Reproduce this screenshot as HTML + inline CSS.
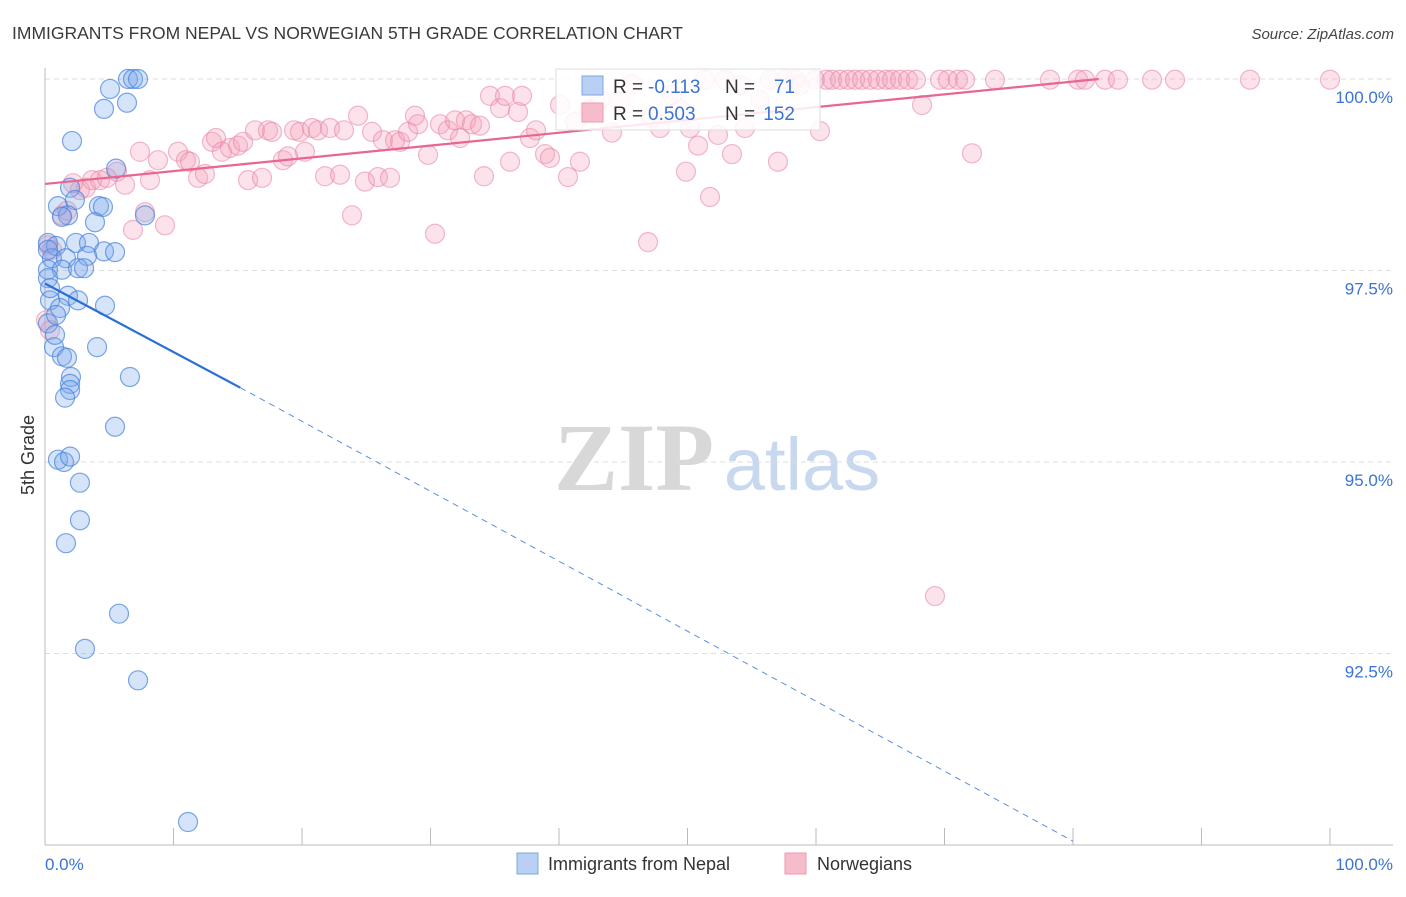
<!DOCTYPE html>
<html><head><meta charset="utf-8">
<style>
body{margin:0;background:#fff;width:1406px;height:892px;overflow:hidden;font-family:"Liberation Sans",sans-serif;}
svg text{font-family:"Liberation Sans",sans-serif;}
</style></head>
<body>
<svg id="chart" width="1406" height="892" xmlns="http://www.w3.org/2000/svg">
<text x="12" y="39" font-size="17.5" fill="#3a3a3a">IMMIGRANTS FROM NEPAL VS NORWEGIAN 5TH GRADE CORRELATION CHART</text>
<text x="1394" y="39" font-size="15" fill="#444" text-anchor="end" font-style="italic">Source: ZipAtlas.com</text>
<g>
<text x="634" y="490" font-size="96" fill="#d8d8d8" text-anchor="middle" font-weight="bold" style="font-family:'Liberation Serif',serif">ZIP</text>
<text x="802" y="490" font-size="74" fill="#c8d8ee" text-anchor="middle">atlas</text>
</g>
<g id="grid"></g>
<g id="axes"></g>
<g id="points"></g>
<g id="trends"></g>
<text transform="translate(34,455) rotate(-90)" font-size="18" fill="#333" text-anchor="middle">5th Grade</text>
<g>
<rect x="556" y="69" width="264" height="61" fill="#fff" fill-opacity="0.85" stroke="#ddd"/>
<rect x="582" y="76" width="21" height="19" fill="#b9d0f3" stroke="#7ea6e3"/>
<rect x="582" y="103" width="21" height="19" fill="#f7bccb" stroke="#ee9ab2"/>
<text x="613" y="93" font-size="19" fill="#333">R = </text><text x="648" y="93" font-size="19" fill="#3a74d4">-0.113</text>
<text x="725" y="93" font-size="19" fill="#333">N = </text><text x="795" y="93" font-size="19" fill="#3a74d4" text-anchor="end">71</text>
<text x="613" y="120" font-size="19" fill="#333">R = </text><text x="648" y="120" font-size="19" fill="#3a74d4">0.503</text>
<text x="725" y="120" font-size="19" fill="#333">N = </text><text x="795" y="120" font-size="19" fill="#3a74d4" text-anchor="end">152</text>
</g>
<g>
<rect x="517" y="853" width="21" height="21" fill="#b9d0f3" stroke="#7ea6e3"/>
<text x="548" y="870" font-size="18" fill="#333">Immigrants from Nepal</text>
</g>
<g>
<rect x="785" y="853" width="21" height="21" fill="#f7bccb" stroke="#ee9ab2"/>
<text x="817" y="870" font-size="18" fill="#333">Norwegians</text>
</g>
</svg>
<script>
const blueX=[6.46,6.85,7.24,5.06,6.38,4.59,2.10,5.53,1.95,1.01,4.20,4.51,2.33,1.79,1.32,3.89,7.78,0.23,0.86,2.41,3.42,4.59,5.45,0.54,1.63,3.27,0.23,1.32,2.57,3.04,0.23,1.79,2.57,4.67,0.39,1.17,0.23,0.86,0.70,1.32,1.71,4.05,2.02,1.95,1.95,6.61,5.45,1.01,1.48,1.95,2.72,2.72,1.63,5.76,3.11,7.24,11.13,0.23,0.39,0.78,1.56];
const blueY=[100,100,100,99.87,99.69,99.61,99.19,98.83,98.58,98.34,98.34,98.33,98.42,98.22,98.20,98.13,98.22,97.86,97.82,97.86,97.86,97.75,97.74,97.66,97.66,97.69,97.51,97.51,97.53,97.53,97.40,97.17,97.11,97.04,97.11,97.01,96.81,96.92,96.50,96.38,96.36,96.50,96.11,96.02,95.94,96.11,95.46,95.03,95.00,95.07,94.73,94.24,93.94,93.02,92.56,92.15,90.30,97.77,97.27,96.66,95.84];
const pinkX=[0.23,0.54,1.32,1.71,2.72,3.19,2.18,3.66,4.28,4.82,5.60,6.23,7.39,8.17,8.79,9.34,7.78,6.85,10.35,10.97,11.28,11.91,12.45,13.00,13.31,13.77,14.40,15.02,15.41,15.80,16.34,16.89,17.35,17.67,18.52,18.91,19.38,19.84,20.23,20.78,21.25,21.79,22.18,22.96,23.27,23.89,24.36,24.90,25.45,25.91,26.30,26.85,27.24,27.63,28.25,28.79,29.03,29.81,30.35,30.74,31.36,31.91,32.30,32.76,33.23,33.85,34.16,34.63,35.41,35.80,36.19,36.81,37.12,37.74,38.21,38.91,39.30,40.08,40.70,41.25,41.63,42.41,43.19,44.12,44.75,45.68,46.93,47.24,47.86,48.79,49.42,49.88,50.19,50.82,51.36,51.75,52.37,52.92,53.46,54.09,54.47,55.64,56.42,57.04,57.59,58.37,58.75,59.92,60.31,60.78,61.25,61.87,62.49,63.04,63.58,64.20,64.82,65.45,65.91,66.54,67.16,67.78,68.25,69.26,69.65,70.27,71.05,71.60,72.14,73.93,78.21,80.39,80.93,82.49,83.50,86.15,87.94,93.77,100.0,0.08,0.39];
const pinkY=[97.83,97.77,98.22,98.28,98.55,98.58,98.64,98.68,98.68,98.71,98.79,98.62,99.05,98.68,98.94,98.09,98.26,98.03,99.05,98.94,98.92,98.71,98.76,99.18,99.23,99.05,99.10,99.13,99.18,98.68,99.33,98.71,99.33,99.31,98.94,98.99,99.33,99.31,99.05,99.36,99.33,98.73,99.36,98.75,99.33,98.22,99.52,98.66,99.31,98.72,99.20,98.71,99.20,99.18,99.31,99.52,99.41,99.01,97.98,99.41,99.33,99.46,99.23,99.46,99.41,99.39,98.73,99.78,99.62,99.78,98.92,99.57,99.78,99.23,99.33,99.02,98.97,99.66,98.72,99.44,98.92,99.60,99.73,99.30,99.70,99.93,97.87,99.49,99.36,99.79,99.60,98.79,99.36,99.13,99.99,98.46,99.27,99.99,99.02,99.92,99.36,99.73,99.99,98.92,99.99,99.99,99.92,99.99,99.32,99.99,99.99,99.99,99.99,99.99,99.99,99.99,99.99,99.99,99.99,99.99,99.99,99.99,99.66,93.25,99.99,99.99,99.99,99.99,99.03,99.99,99.99,99.99,99.99,99.99,99.99,99.99,99.99,99.99,99.99,96.85,96.72];
const yTicks=[100,97.5,95,92.5];
const yTickLabels=["100.0%","97.5%","95.0%","92.5%"];
const xTicks=[0,10,20,30,40,50,60,70,80,90,100];
const blueTrend=[[0,97.33],[15.2,95.97],[80,90.05]];
const pinkTrend=[[0,98.63],[82,100]];
const X0=45,X1=1330,Y0=845,Y1=79,YMIN=90,YMAX=100;
const sx=v=>X0+(v/100)*(X1-X0);
const sy=v=>Y0-(v-YMIN)/(YMAX-YMIN)*(Y0-Y1);
const NS="http://www.w3.org/2000/svg";
function mk(t,a,p){const e=document.createElementNS(NS,t);for(const k in a)e.setAttribute(k,a[k]);p.appendChild(e);return e;}
const grid=document.getElementById('grid'),axes=document.getElementById('axes'),pts=document.getElementById('points'),tr=document.getElementById('trends');
yTicks.forEach((v,i)=>{
 const l=mk('line',{x1:X0,x2:1393,y1:sy(v),y2:sy(v),stroke:'#ddd','stroke-dasharray':'5,4'},grid);
 
 
 const t=mk('text',{x:1393,y:sy(v)+24,'font-size':17,fill:'#3a74d4','text-anchor':'end'},axes);
 t.textContent=yTickLabels[i];
 
 
});
const ax=mk('line',{x1:X0,x2:X0,y1:68,y2:Y0,stroke:'#bbb'},axes);


const bx=mk('line',{x1:X0,x2:1393,y1:Y0,y2:Y0,stroke:'#bbb'},axes);


xTicks.forEach(v=>{
 const l=mk('line',{x1:sx(v),x2:sx(v),y1:Y0,y2:Y0-17,stroke:'#bbb'},axes);
 
 
});
const xl0=mk('text',{x:45,y:870,'font-size':17,fill:'#3a74d4'},axes);xl0.textContent='0.0%';


const xl1=mk('text',{x:1393,y:870,'font-size':17,fill:'#3a74d4','text-anchor':'end'},axes);xl1.textContent='100.0%';


pinkX.forEach((v,i)=>{
 const c=mk('circle',{cx:sx(v),cy:sy(pinkY[i]),r:9.5,fill:'rgba(244,160,185,0.3)',stroke:'rgba(232,130,160,0.55)','stroke-width':1.2},pts);
 
 
});
blueX.forEach((v,i)=>{
 const c=mk('circle',{cx:sx(v),cy:sy(blueY[i]),r:9.5,fill:'rgba(120,165,235,0.3)',stroke:'rgba(70,130,220,0.7)','stroke-width':1.2},pts);
 
 
});
const b1=mk('line',{x1:sx(blueTrend[0][0]),y1:sy(blueTrend[0][1]),x2:sx(blueTrend[1][0]),y2:sy(blueTrend[1][1]),stroke:'#2a6fd6','stroke-width':2.2},tr);


const b2=mk('line',{x1:sx(blueTrend[1][0]),y1:sy(blueTrend[1][1]),x2:sx(blueTrend[2][0]),y2:sy(blueTrend[2][1]),stroke:'#5a90dd','stroke-width':1,'stroke-dasharray':'6,5'},tr);


const p1=mk('line',{x1:sx(pinkTrend[0][0]),y1:sy(pinkTrend[0][1]),x2:sx(pinkTrend[1][0]),y2:sy(pinkTrend[1][1]),stroke:'#e8668f','stroke-width':2.2},tr);


</script>
</body></html>
